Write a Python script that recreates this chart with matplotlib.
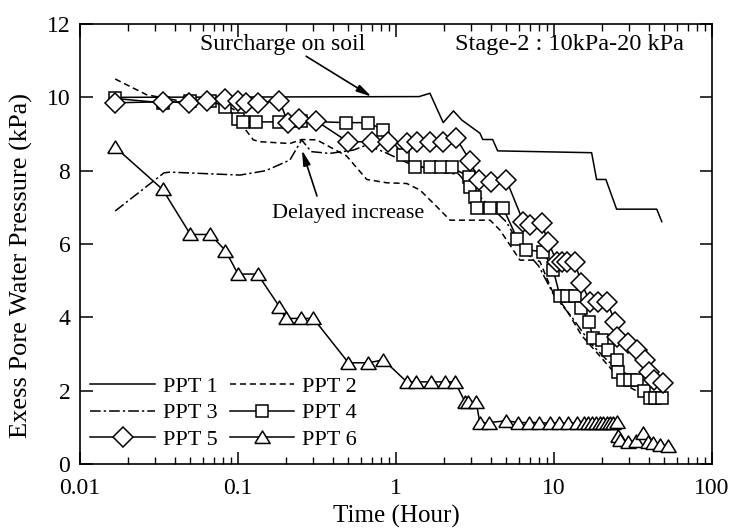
import matplotlib
matplotlib.use("Agg")
import matplotlib.pyplot as plt
from matplotlib.ticker import LogLocator, NullFormatter, FixedLocator

plt.rcParams['font.family'] = ['Liberation Serif', 'DejaVu Serif']

# ---------------- data ----------------
t1 = [0.0167, 1.4, 1.64, 1.99, 2.31, 2.61, 3.4, 3.54, 4.09, 4.4, 17.3, 18.6, 21.3, 24.9, 44.7, 48.1]
p1 = [10.0, 10.02, 10.11, 9.31, 9.63, 9.38, 9.02, 8.85, 8.85, 8.54, 8.49, 7.76, 7.76, 6.95, 6.95, 6.61]

t2 = [0.0167, 0.0264, 0.05, 0.0833, 0.1, 0.108, 0.125, 0.138, 0.213, 0.253, 0.315, 0.487, 0.653,
      0.873, 1.17, 1.42, 1.81, 2.2, 3.94, 4.55, 6.09, 7.77, 8.15, 9.67, 12, 15, 19, 24, 30, 38, 48]
p2 = [10.5, 10.07, 9.85, 9.8, 9.6, 9.2, 8.84, 8.79, 8.74, 8.85, 8.84, 8.4, 7.76,
      7.67, 7.65, 7.47, 7.02, 6.65, 6.65, 6.38, 5.56, 5.56, 5.52, 4.75, 4.2, 3.5, 3.0, 2.5, 2.1, 1.85, 1.75]

t3 = [0.0167, 0.034, 0.037, 0.103, 0.15, 0.213, 0.253, 0.29, 0.38, 0.536, 0.653, 0.85, 1.2, 2.0,
      2.5, 3.0, 4.0, 5.0, 6.0, 8.0, 10, 13, 17, 22, 30, 40, 50]
p3 = [6.9, 7.94, 7.96, 7.88, 8.0, 8.29, 8.84, 8.52, 8.47, 8.56, 8.7, 8.5, 8.2, 7.95,
      7.9, 7.5, 7.0, 6.6, 6.0, 5.4, 4.6, 4.0, 3.3, 2.8, 2.4, 2.1, 2.0]

t4 = [0.0167, 0.0333, 0.05, 0.0667, 0.0833, 0.1, 0.108, 0.13, 0.183, 0.25, 0.484, 0.667, 0.833,
      1.11, 1.32, 1.64, 1.94, 2.25, 2.88, 2.94, 3.16, 3.24, 3.94, 4.78, 5.87, 6.67, 8.56, 9.9,
      10.9, 12.1, 13.5, 14.9, 16.7, 17.6, 20.0, 22.0, 24.9, 25.5, 27.4, 30.2, 33.4, 37.0,
      40.6, 43.7, 48.1]
p4 = [9.97, 9.85, 9.9, 9.9, 9.75, 9.4, 9.33, 9.33, 9.33, 9.35, 9.31, 9.31, 9.11,
      8.43, 8.09, 8.09, 8.09, 8.09, 7.84, 7.56, 7.27, 6.97, 6.97, 6.97, 6.13, 5.84, 5.79, 5.29,
      4.58, 4.58, 4.58, 4.25, 3.88, 3.43, 3.38, 3.1, 2.84, 2.52, 2.29, 2.29, 2.29, 2.0,
      1.79, 1.79, 1.79]

t5 = [0.0167, 0.0336, 0.0493, 0.0633, 0.0828, 0.1003, 0.113, 0.134, 0.183, 0.208, 0.244, 0.312,
      0.495, 0.70, 0.89, 1.17, 1.35, 1.64, 1.99, 2.41, 2.94, 3.33, 4.0, 5.0, 6.39, 7.04, 8.35,
      9.19, 10.4, 11.2, 12.1, 13.5, 14.9, 16.9, 19.1, 21.6, 24.4, 25.0, 29.4, 33.4, 37.8, 39.7,
      42.7, 49.3]
p5 = [9.85, 9.88, 9.85, 9.91, 9.95, 9.91, 9.84, 9.84, 9.91, 9.29, 9.40, 9.36,
      8.79, 8.79, 8.79, 8.75, 8.79, 8.79, 8.79, 8.88, 8.27, 7.74, 7.70, 7.74, 6.61, 6.52, 6.56,
      6.06, 5.52, 5.52, 5.52, 5.52, 4.93, 4.43, 4.43, 4.43, 3.88, 3.47, 3.29, 3.11, 2.84, 2.52,
      2.29, 2.20]

t6 = [0.0167, 0.0333, 0.05, 0.0667, 0.0833, 0.1, 0.133, 0.183, 0.2, 0.25, 0.3, 0.5, 0.667, 0.833,
      1.17, 1.34, 1.67, 2.04, 2.36, 2.73, 2.87, 3.21, 3.4, 3.89, 5.0, 5.94, 6.98, 8.07, 9.44,
      10.8, 12.3, 13.9, 15.5, 16.5, 17.5, 18.5, 19.5, 20.5, 21.5, 22.5, 23.5, 24.9, 25.5, 26.2,
      29.5, 33.0, 36.7, 39.5, 42.4, 46.9, 52.9]
p6 = [8.64, 7.49, 6.26, 6.26, 5.82, 5.18, 5.18, 4.29, 3.97, 3.97, 3.97, 2.76, 2.76, 2.84,
      2.24, 2.24, 2.24, 2.24, 2.24, 1.70, 1.70, 1.70, 1.11, 1.13, 1.18, 1.13, 1.13, 1.13, 1.11,
      1.11, 1.11, 1.11, 1.11, 1.11, 1.11, 1.11, 1.11, 1.11, 1.11, 1.11, 1.11, 1.15, 0.76, 0.65,
      0.61, 0.62, 0.84, 0.61, 0.57, 0.52, 0.49]

labels = ['PPT 1', 'PPT 2', 'PPT 3', 'PPT 4', 'PPT 5', 'PPT 6']
yticks = [0, 2, 4, 6, 8, 10, 12]
xticks = [0.01, 0.1, 1, 10, 100]
xticklabels = ['0.01', '0.1', '1', '10', '100']

# ---------------- figure ----------------
fig = plt.figure(figsize=(7.35, 5.32), dpi=100)
ax = fig.add_axes([80/735, 1-464/532, (712-80)/735, (464-24)/532])

lw = 1.1
mk = dict(markerfacecolor='white', markeredgecolor='black', markeredgewidth=1.1, color='black', lw=lw)
tri = [(-1, -0.78), (1, -0.78), (0, 0.85), (-1, -0.78)]

h1, = ax.plot(t1, p1, '-', color='black', lw=lw, label=labels[0])
h2, = ax.plot(t2, p2, color='black', lw=lw, ls=(0, (4, 2.5)), label=labels[1])
h3, = ax.plot(t3, p3, color='black', lw=lw, ls=(0, (7, 2, 1.5, 2)), label=labels[2])
h4, = ax.plot(t4, p4, marker='s', ms=9.2, label=labels[3], **mk)
h5, = ax.plot(t5, p5, marker='D', ms=10, label=labels[4], **mk)
h6, = ax.plot(t6, p6, marker=tri, ms=11, label=labels[5], **mk)

ax.set_xscale('log')
ax.set_xlim(0.01, 100)
ax.set_ylim(0, 12)
ax.xaxis.set_major_locator(FixedLocator(xticks))
ax.set_xticklabels(xticklabels)
ax.xaxis.set_minor_locator(LogLocator(base=10, subs=range(2, 10), numticks=20))
ax.xaxis.set_minor_formatter(NullFormatter())
ax.set_yticks(yticks)

ax.tick_params(which='major', direction='in', length=9, width=1.1, top=True, right=True,
               labelsize=17)
ax.tick_params(axis='y', which='major', pad=7)
ax.tick_params(axis='x', which='major', pad=10)
ax.tick_params(which='minor', direction='in', length=5, width=1.0, top=True, right=True)
for s in ax.spines.values():
    s.set_linewidth(1.2)

ax.set_xlabel('Time (Hour)', fontsize=18, labelpad=4)
ax.set_ylabel('Exess Pore Water Pressure (kPa)', fontsize=19)
ax.yaxis.set_label_coords(-0.074, 0.45)

ax.text(0.193, 11.45, 'Surcharge on soil', fontsize=17, ha='center', va='center')
ax.text(12.6, 11.45, 'Stage-2 : 10kPa-20 kPa', fontsize=17.5, ha='center', va='center')
ax.annotate('', xy=(0.70, 10.02), xytext=(0.27, 11.12),
            arrowprops=dict(arrowstyle='-|>,head_width=0.22,head_length=0.9', color='black', lw=1.2,
                            shrinkA=0, shrinkB=0))
ax.text(0.5, 6.84, 'Delayed increase', fontsize=16, ha='center', va='center')
ax.annotate('', xy=(0.254, 8.56), xytext=(0.316, 7.31),
            arrowprops=dict(arrowstyle='-|>,head_width=0.22,head_length=0.9', color='black', lw=1.2,
                            shrinkA=0, shrinkB=0))

leg = ax.legend([h1, h3, h5, h2, h4, h6], [labels[0], labels[2], labels[4], labels[1], labels[3], labels[5]],
                ncol=2, loc='lower left', bbox_to_anchor=(-0.008, -0.004), frameon=False, fontsize=16,
                handlelength=2.9, handletextpad=0.35, columnspacing=0.55, labelspacing=0.28,
                borderaxespad=0.3)

fig.savefig('out.png', dpi=100)
